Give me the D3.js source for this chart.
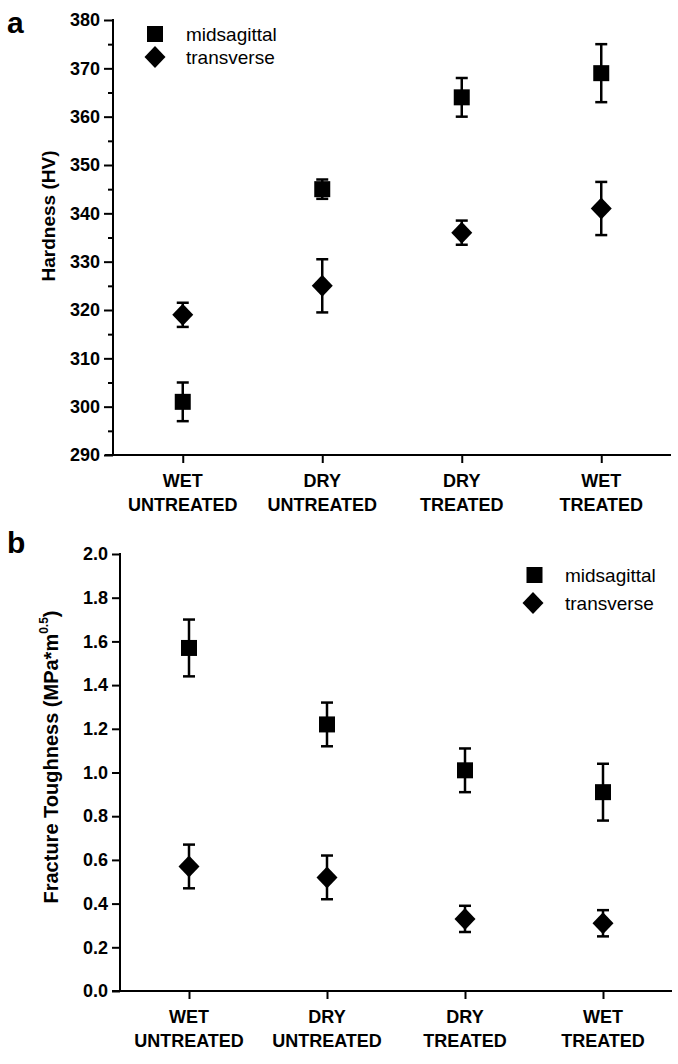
<!DOCTYPE html>
<html>
<head>
<meta charset="utf-8">
<script src="https://cdn.jsdelivr.net/npm/d3@7"></script>
<style>
  html, body { margin: 0; padding: 0; background: #fff; }
  svg { display: block; }
  text { font-family: "Liberation Sans", Arial, sans-serif; fill: #000; }
</style>
</head>
<body>
<svg id="chart" width="678" height="1064"></svg>
<script>
// ---- data ----
const categories = [["WET", "UNTREATED"], ["DRY", "UNTREATED"], ["DRY", "TREATED"], ["WET", "TREATED"]];
const seriesNames = ["midsagittal", "transverse"];

const hardnessMid = [301, 345, 364, 369];
const hardnessMidErr = [4, 2, 4, 6];
const hardnessTrans = [319, 325, 336, 341];
const hardnessTransErr = [2.5, 5.5, 2.5, 5.5];
const hardnessTicks = [290, 300, 310, 320, 330, 340, 350, 360, 370, 380];
const hardnessMinorTicks = [295, 305, 315, 325, 335, 345, 355, 365, 375];

const toughMid = [1.57, 1.22, 1.01, 0.91];
const toughMidErr = [0.13, 0.10, 0.10, 0.13];
const toughTrans = [0.57, 0.52, 0.33, 0.31];
const toughTransErr = [0.10, 0.10, 0.06, 0.06];
const toughTicks = [0.0, 0.2, 0.4, 0.6, 0.8, 1.0, 1.2, 1.4, 1.6, 1.8, 2.0];

const svg = d3.select("#chart");

function diamondPath(hw, hh) {
  return `M0,${-hh}L${hw},0L0,${hh}L${-hw},0Z`;
}
const squareSize = 16;
const diamondW = 10.5, diamondH = 11;

function drawPanel(cfg) {
  const g = svg.append("g");
  const x = d3.scalePoint().domain(d3.range(categories.length)).range([cfg.left, cfg.right]).padding(0.5);
  const y = d3.scaleLinear().domain(cfg.domain).range([cfg.bottom, cfg.top]);

  // y axis
  const yAxis = d3.axisLeft(y).tickValues(cfg.ticks).tickFormat(cfg.fmt).tickSize(cfg.tickLen).tickPadding(4).tickSizeOuter(0);
  const ya = g.append("g").attr("transform", `translate(${cfg.left},0)`).call(yAxis);
  ya.select(".domain").attr("stroke", "#000").attr("stroke-width", 2).attr("d", `M0,${cfg.bottom}V${cfg.top - 1}`);
  ya.selectAll(".tick line").attr("stroke", "#000").attr("stroke-width", 2);
  ya.selectAll(".tick text").attr("font-size", 18).attr("font-weight", "bold")
    .attr("font-family", '"Liberation Sans", Arial, sans-serif').attr("fill", "#000");

  if (cfg.minor) {
    const ym = d3.axisLeft(y).tickValues(cfg.minor).tickFormat("").tickSize(5).tickSizeOuter(0);
    const ma = g.append("g").attr("transform", `translate(${cfg.left},0)`).call(ym);
    ma.select(".domain").remove();
    ma.selectAll(".tick line").attr("stroke", "#000").attr("stroke-width", 2);
  }

  // x axis
  const xAxis = d3.axisBottom(x).tickSize(8).tickFormat("").tickSizeOuter(0);
  const xa = g.append("g").attr("transform", `translate(0,${cfg.bottom})`).call(xAxis);
  xa.select(".domain").attr("stroke", "#000").attr("stroke-width", 2).attr("d", `M${cfg.left - 8},0H${cfg.right}`);
  xa.selectAll(".tick line").attr("stroke", "#000").attr("stroke-width", 2);

  // category labels
  categories.forEach((c, i) => {
    const t = g.append("text").attr("text-anchor", "middle").attr("font-size", 18).attr("font-weight", "bold");
    t.append("tspan").attr("x", x(i)).attr("y", cfg.bottom + 32).text(c[0]);
    t.append("tspan").attr("x", x(i)).attr("y", cfg.bottom + 56).text(c[1]);
  });

  // y title
  const yt = g.append("text").attr("transform", `translate(${cfg.titleX},${cfg.titleY}) rotate(-90)`)
    .attr("text-anchor", "middle").attr("font-size", cfg.titleSize).attr("font-weight", "bold");
  cfg.titleParts.forEach(p => {
    const ts = yt.append("tspan").text(p.t);
    if (p.sup) ts.attr("font-size", 12).attr("dy", -10);
    if (p.after) ts.attr("dy", 10);
  });

  // panel letter
  g.append("text").attr("x", 7).attr("y", cfg.letterY).attr("font-size", 30).attr("font-weight", "bold").text(cfg.letter);

  // error bars + markers
  const series = [
    { vals: cfg.mid, errs: cfg.midErr, shape: "square" },
    { vals: cfg.trans, errs: cfg.transErr, shape: "diamond" }
  ];
  series.forEach(s => {
    s.vals.forEach((v, i) => {
      const cx = x(i), e = s.errs[i];
      g.append("line").attr("x1", cx).attr("x2", cx).attr("y1", y(v + e)).attr("y2", y(v - e))
        .attr("stroke", "#000").attr("stroke-width", 2.5);
      [v + e, v - e].forEach(w => {
        g.append("line").attr("x1", cx - 6).attr("x2", cx + 6).attr("y1", y(w)).attr("y2", y(w))
          .attr("stroke", "#000").attr("stroke-width", 2.5);
      });
    });
    s.vals.forEach((v, i) => {
      if (s.shape === "square") {
        g.append("rect").attr("x", x(i) - squareSize / 2).attr("y", y(v) - squareSize / 2)
          .attr("width", squareSize).attr("height", squareSize).attr("fill", "#000");
      } else {
        g.append("path").attr("d", diamondPath(diamondW, diamondH))
          .attr("transform", `translate(${x(i)},${y(v)})`).attr("fill", "#000");
      }
    });
  });

  // legend
  const lg = g.append("g");
  lg.append("rect").attr("x", cfg.legend.sx - squareSize / 2).attr("y", cfg.legend.sy - squareSize / 2)
    .attr("width", squareSize).attr("height", squareSize).attr("fill", "#000");
  lg.append("path").attr("d", diamondPath(diamondW, diamondH))
    .attr("transform", `translate(${cfg.legend.dx},${cfg.legend.dy})`).attr("fill", "#000");
  lg.append("text").attr("x", cfg.legend.tx).attr("y", cfg.legend.sy + 7).attr("font-size", 19).text(seriesNames[0]);
  lg.append("text").attr("x", cfg.legend.tx).attr("y", cfg.legend.dy + 7).attr("font-size", 19).text(seriesNames[1]);
}

drawPanel({
  left: 113, right: 671, top: 20, bottom: 455,
  domain: [290, 380], ticks: hardnessTicks, minor: hardnessMinorTicks, tickLen: 9,
  fmt: d3.format("d"),
  mid: hardnessMid, midErr: hardnessMidErr, trans: hardnessTrans, transErr: hardnessTransErr,
  titleX: 55, titleY: 216, titleSize: 19,
  titleParts: [{ t: "Hardness (HV)" }],
  letter: "a", letterY: 33,
  legend: { sx: 155, sy: 34, dx: 155, dy: 57, tx: 186 }
});

drawPanel({
  left: 120, right: 672, top: 554, bottom: 991,
  domain: [0, 2.0], ticks: toughTicks, minor: null, tickLen: 8,
  fmt: d3.format(".1f"),
  mid: toughMid, midErr: toughMidErr, trans: toughTrans, transErr: toughTransErr,
  titleX: 58, titleY: 757, titleSize: 20,
  titleParts: [{ t: "Fracture Toughness (MPa*m" }, { t: "0.5", sup: true }, { t: ")", after: true }],
  letter: "b", letterY: 553,
  legend: { sx: 534.5, sy: 575, dx: 533, dy: 603, tx: 565 }
});
</script>
</body>
</html>
